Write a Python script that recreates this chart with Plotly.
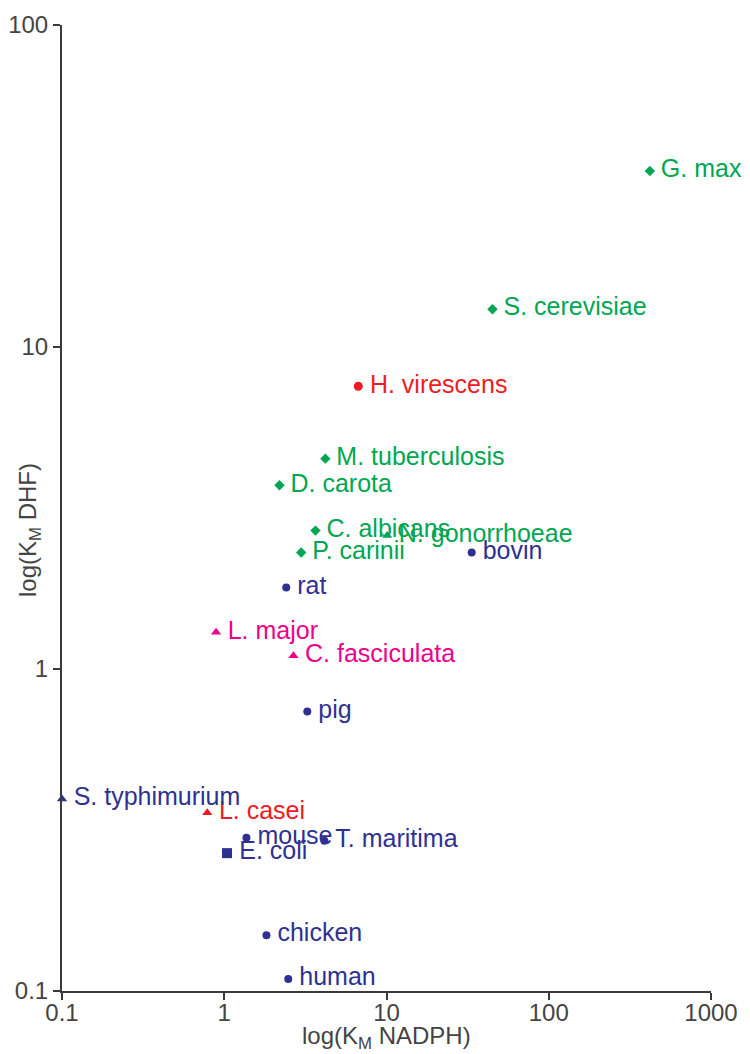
import plotly.graph_objects as go

# Green diamonds
green_names = ["G. max", "S. cerevisiae", "M. tuberculosis", "D. carota", "C. albicans", "P. carinii"]
green_x = [420, 45, 4.2, 2.19, 3.65, 2.98]
green_y = [35.2, 13.1, 4.5, 3.72, 2.69, 2.30]

# Green triangle
green_tri_names = ["N. gonorrhoeae"]
green_tri_x = [10.1]
green_tri_y = [2.6]

# Red circle
red_circ_names = ["H. virescens"]
red_circ_x = [6.7]
red_circ_y = [7.55]

# Red triangle
red_tri_names = ["L. casei"]
red_tri_x = [0.786]
red_tri_y = [0.358]

# Magenta triangles
mag_names = ["L. major", "C. fasciculata"]
mag_x = [0.89, 2.67]
mag_y = [1.30, 1.10]

# Blue circles
blue_names = ["bovin", "rat", "pig", "mouse", "T. maritima", "chicken", "human"]
blue_x = [33.5, 2.41, 3.25, 1.37, 4.14, 1.82, 2.48]
blue_y = [2.30, 1.79, 0.738, 0.299, 0.293, 0.149, 0.109]

# Blue triangle
blue_tri_names = ["S. typhimurium"]
blue_tri_x = [0.1]
blue_tri_y = [0.395]

# Blue square
blue_sq_names = ["E. coli"]
blue_sq_x = [1.04]
blue_sq_y = [0.268]

x_ticks = [0.1, 1, 10, 100, 1000]
x_ticktext = ["0.1", "1", "10", "100", "1000"]
y_ticks = [0.1, 1, 10, 100]
y_ticktext = ["0.1", "1", "10", "100"]

GREEN = "#00a651"
RED = "#ed1c24"
MAGENTA = "#ec008c"
BLUE = "#2e3192"
AXC = "#3a3a3a"
FONT = "Liberation Sans, Arial, sans-serif"
FS = 25

fig = go.Figure()

def add(names, xs, ys, color, symbol, size):
    fig.add_trace(go.Scatter(
        x=xs, y=ys, text=["\u2009" + n for n in names], mode="markers+text",
        textposition="middle right",
        marker=dict(color=color, symbol=symbol, size=size, line=dict(width=0)),
        textfont=dict(color=color, size=FS, family=FONT),
        cliponaxis=False, showlegend=False,
    ))

add(green_names, green_x, green_y, GREEN, "diamond", 8)
add(green_tri_names, green_tri_x, green_tri_y, GREEN, "triangle-up", 9)
add(red_circ_names, red_circ_x, red_circ_y, RED, "circle", 9)
add(red_tri_names, red_tri_x, red_tri_y, RED, "triangle-up", 9)
add(mag_names, mag_x, mag_y, MAGENTA, "triangle-up", 9)
add(blue_names, blue_x, blue_y, BLUE, "circle", 8)
add(blue_tri_names, blue_tri_x, blue_tri_y, BLUE, "triangle-up", 9)
add(blue_sq_names, blue_sq_x, blue_sq_y, BLUE, "square", 10)

axis_common = dict(
    type="log", showgrid=False, zeroline=False, showline=True,
    linecolor=AXC, linewidth=2, ticks="outside", ticklen=7,
    tickwidth=2, tickcolor=AXC, automargin=False,
    tickfont=dict(size=24, family=FONT, color="#444444"),
)

pw = 750 - 62 - 39
ph = 1054 - 25 - 63

fig.update_layout(
    width=750, height=1054,
    margin=dict(l=62, r=39, t=25, b=63),
    paper_bgcolor="white", plot_bgcolor="white",
    xaxis=dict(range=[-1, 3], tickvals=x_ticks, ticktext=x_ticktext,
               ticklabelstandoff=-8, **axis_common),
    yaxis=dict(range=[-1, 2], tickvals=y_ticks, ticktext=y_ticktext, **axis_common),
    annotations=[
        dict(text="log(K<sub>M</sub> NADPH)",
             x=(386 - 62) / pw, y=(1054 - 63 - 1037) / ph,
             xref="paper", yref="paper", xanchor="center", yanchor="middle",
             showarrow=False, font=dict(size=24, family=FONT, color="#444444")),
        dict(text="log(K<sub>M</sub> DHF)",
             x=(29 - 62) / pw, y=(1054 - 63 - 530) / ph,
             xref="paper", yref="paper", xanchor="center", yanchor="middle",
             textangle=-90, showarrow=False, font=dict(size=24, family=FONT, color="#444444")),
    ],
)

fig.write_html("out.html")
